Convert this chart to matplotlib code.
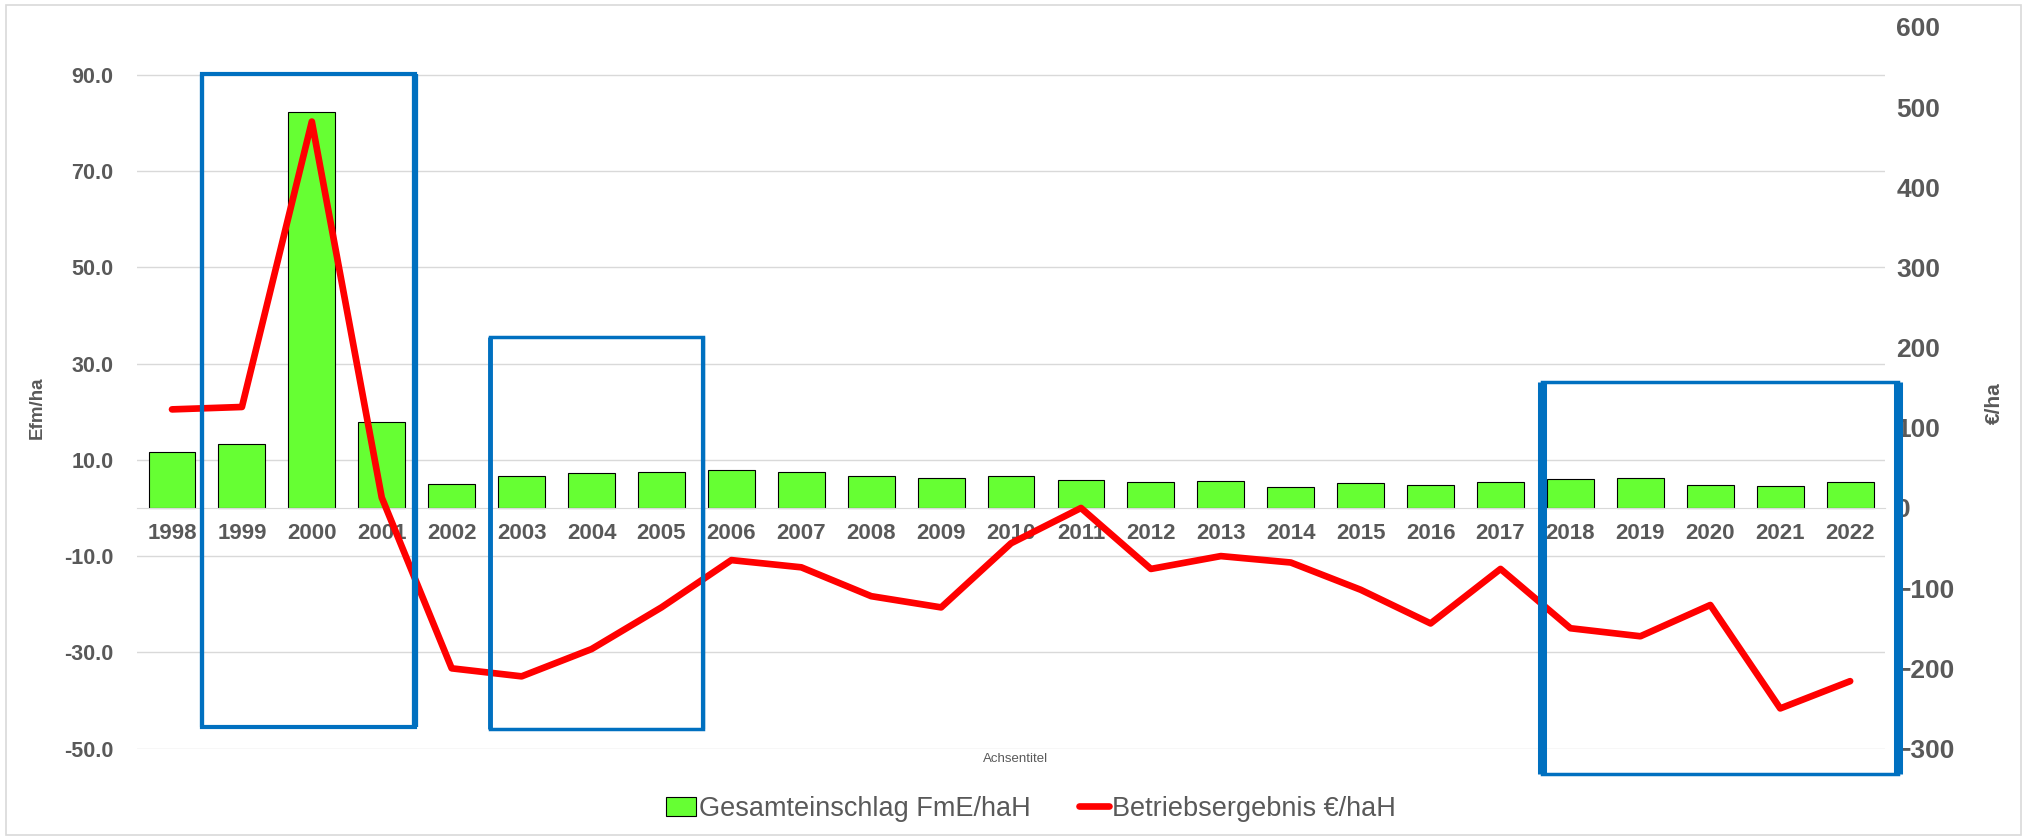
import numpy as np
import matplotlib
matplotlib.use('Agg')
import matplotlib.pyplot as plt
from matplotlib.patches import Patch, Rectangle
from matplotlib.lines import Line2D

plt.rcParams['font.family'] = ['Liberation Sans', 'DejaVu Sans']

years = ['1998', '1999', '2000', '2001', '2002', '2003', '2004', '2005', '2006', '2007',
         '2008', '2009', '2010', '2011', '2012', '2013', '2014', '2015', '2016', '2017',
         '2018', '2019', '2020', '2021', '2022']
einschlag = [11.6, 13.3, 82.3, 17.9, 5.0, 6.6, 7.2, 7.5, 7.9, 7.5,
             6.6, 6.3, 6.6, 5.8, 5.4, 5.6, 4.4, 5.1, 4.7, 5.4,
             6.0, 6.3, 4.7, 4.6, 5.5]
ergebnis = [123, 126, 482, 13, -200, -210, -176, -124, -65, -74,
            -110, -124, -44, 0, -76, -60, -68, -102, -144, -76,
            -150, -160, -121, -250, -216]

left_ticks = [-50, -30, -10, 10, 30, 50, 70, 90]
right_ticks = [-300, -200, -100, 0, 100, 200, 300, 400, 500, 600]

# highlight boxes: (x0, x1, y0, y1) in category / left-axis units, edge widths (frame, left, right)
boxes = [
    ((0.43, 3.48, -45.5, 90.3), (3.0, 3.0, 4.5)),
    ((4.55, 7.60, -46.0, 35.6), (2.5, 3.5, 3.0)),
    ((19.60, 24.69, -55.4, 26.2), (2.5, 6.5, 6.5)),
]

grey = '#595959'
blue = '#0070C0'
x = np.arange(len(years))

fig = plt.figure(figsize=(20.27, 8.38), dpi=100)
ax = fig.add_axes([0.0676, 0.1068, 0.8624, 0.861])
ax2 = ax.twinx()

ax.bar(x, einschlag, width=0.67, color='#66FF33', edgecolor='black', linewidth=0.8, zorder=2)
ax.set_xlim(-0.5, len(years) - 0.5)
ax.set_ylim(-50, 100)
ax.set_yticks(left_ticks)
ax.set_yticklabels(['%.1f' % v for v in left_ticks])
ax.grid(axis='y', color='#D9D9D9', linewidth=1.0, zorder=0)
ax.set_axisbelow(True)
for s in ['top', 'left', 'right']:
    ax.spines[s].set_visible(False)
ax.spines['bottom'].set_position(('data', 0))
ax.spines['bottom'].set_color('#D9D9D9')
ax.set_xticks(x)
ax.set_xticklabels(years)
ax.tick_params(axis='x', length=0, pad=11, labelsize=16, labelcolor=grey)
ax.tick_params(axis='y', length=0, pad=17, labelsize=15.5, labelcolor=grey)
for lbl in ax.get_xticklabels() + ax.get_yticklabels():
    lbl.set_fontweight('bold')

ax2.plot(x, ergebnis, color='#FF0000', linewidth=4.8, solid_capstyle='round', solid_joinstyle='round', zorder=3)
ax2.set_ylim(-300, 600)
ax2.set_yticks(right_ticks)
for s in ['top', 'left', 'right', 'bottom']:
    ax2.spines[s].set_visible(False)
ax2.tick_params(axis='y', length=0, pad=8, labelsize=19, labelcolor=grey)
for lbl in ax2.get_yticklabels():
    lbl.set_fontweight('bold')

# blue frames on top of everything
for (x0, x1, y0, y1), (wf, wl, wr) in boxes:
    ax2.add_patch(Rectangle((x0, y0), x1 - x0, y1 - y0, transform=ax.transData, fill=False,
                            edgecolor=blue, linewidth=wf, joinstyle='miter', clip_on=False, zorder=10))
    kw = dict(color=blue, transform=ax.transData, clip_on=False, zorder=10, solid_capstyle='butt')
    ax2.plot([x0, x0], [y0, y1], linewidth=wl, **kw)
    ax2.plot([x1, x1], [y0, y1], linewidth=wr, **kw)

fig.text(0.0185, 0.513, 'Efm/ha', rotation=90, ha='center', va='center', fontsize=13.5, fontweight='bold', color=grey)
fig.text(0.984, 0.519, '€/ha', rotation=90, ha='center', va='center', fontsize=15, fontweight='bold', color=grey)
fig.text(0.501, 0.094, 'Achsentitel', ha='center', va='center', fontsize=9.5, color=grey)

handles = [Patch(facecolor='#66FF33', edgecolor='black', linewidth=0.8),
           Line2D([0], [0], color='#FF0000', linewidth=4.8, solid_capstyle='round')]
leg = fig.legend(handles, ['Gesamteinschlag FmE/haH', 'Betriebsergebnis €/haH'],
                 loc='center', bbox_to_anchor=(0.5085, 0.035), ncol=2, frameon=False,
                 fontsize=19.5, handlelength=1.1, handletextpad=0.1, columnspacing=1.8)
for t in leg.get_texts():
    t.set_color(grey)

fig.patches.append(Rectangle((0.003, 0.004), 0.994, 0.99, transform=fig.transFigure,
                             fill=False, edgecolor='#D9D9D9', linewidth=1.2))

fig.savefig('out.png', dpi=100, facecolor='white')
